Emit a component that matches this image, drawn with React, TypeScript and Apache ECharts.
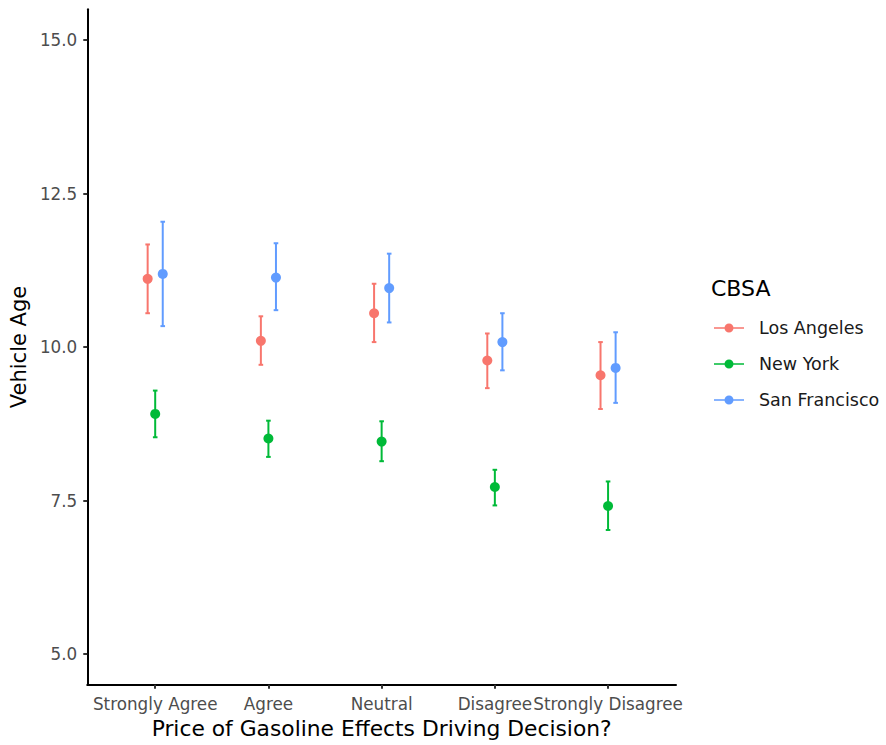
import React, { useEffect, useRef } from "react";
import * as echarts from "echarts";

// Survey answers on the x axis and the three metro areas compared
const categories = ["Strongly Agree", "Agree", "Neutral", "Disagree", "Strongly Disagree"];
const cities = ["Los Angeles", "New York", "San Francisco"];
const cityColors = ["#F8766D", "#00BA38", "#619CFF"];
const yTicks = [5, 7.5, 10, 12.5, 15];

// Mean vehicle age with lower / upper bounds of the interval, per answer
const laMean = [11.11, 10.1, 10.55, 9.78, 9.54];
const laLow = [10.55, 9.71, 10.08, 9.33, 8.99];
const laHigh = [11.67, 10.5, 11.03, 10.22, 10.08];

const nyMean = [8.91, 8.51, 8.46, 7.72, 7.41];
const nyLow = [8.53, 8.21, 8.14, 7.42, 7.02];
const nyHigh = [9.29, 8.8, 8.79, 8.0, 7.81];

const sfMean = [11.19, 11.13, 10.96, 10.08, 9.66];
const sfLow = [10.34, 10.6, 10.4, 9.62, 9.09];
const sfHigh = [12.04, 11.69, 11.52, 10.55, 10.24];

const means = [laMean, nyMean, sfMean];
const lows = [laLow, nyLow, sfLow];
const highs = [laHigh, nyHigh, sfHigh];

// Dodge width shared by the three groups at each answer
const DODGE = 0.2;
const FONT = "'DejaVu Sans', 'Noto Sans', sans-serif";

const legendIcon =
  "path://M0,4.2H30V5.8H0Z M10.5,5A4.5,4.5 0 1 1 19.5,5A4.5,4.5 0 1 1 10.5,5Z";

export default function App() {
  const ref = useRef<HTMLDivElement>(null);

  useEffect(() => {
    document.body.style.margin = "0";
    if (!ref.current) return;
    const chart = echarts.init(ref.current, null, { renderer: "svg" });

    const series: any[] = [];
    cities.forEach((city, g) => {
      const off = (g - 1) * (DODGE / 3);
      const color = cityColors[g];
      series.push({
        type: "custom",
        name: city + " interval",
        data: lows[g].map((lo, i) => [i + 1 + off, lo, highs[g][i]]),
        encode: { x: 0, y: [1, 2] },
        z: 2,
        renderItem: (_params: any, api: any) => {
          const x = api.value(0);
          const p1 = api.coord([x, api.value(1)]);
          const p2 = api.coord([x, api.value(2)]);
          const hw = 2.3;
          const style = { stroke: color, lineWidth: 2 };
          return {
            type: "group",
            children: [
              { type: "line", shape: { x1: p1[0], y1: p1[1], x2: p2[0], y2: p2[1] }, style },
              { type: "line", shape: { x1: p1[0] - hw, y1: p1[1], x2: p1[0] + hw, y2: p1[1] }, style },
              { type: "line", shape: { x1: p2[0] - hw, y1: p2[1], x2: p2[0] + hw, y2: p2[1] }, style },
            ],
          };
        },
      });
      series.push({
        type: "scatter",
        name: city,
        data: means[g].map((m, i) => [i + 1 + off, m]),
        symbol: "circle",
        symbolSize: 10,
        itemStyle: { color, opacity: 1 },
        z: 3,
      });
    });

    chart.setOption({
      animation: false,
      backgroundColor: "#ffffff",
      textStyle: { fontFamily: FONT },
      grid: { left: 87, right: 210, top: 9.3, bottom: 60.3, containLabel: false },
      xAxis: {
        type: "value",
        min: 0.4,
        max: 5.6,
        name: "Price of Gasoline Effects Driving Decision?",
        nameLocation: "middle",
        nameGap: 30,
        nameTextStyle: { fontSize: 21.8, color: "#000000", fontFamily: FONT },
        axisLine: { show: true, onZero: false, lineStyle: { color: "#000000", width: 2 } },
        axisTick: { show: true, length: 4, customValues: [1, 2, 3, 4, 5], lineStyle: { color: "#333333", width: 2 } },
        axisLabel: {
          customValues: [1, 2, 3, 4, 5],
          formatter: (v: number) => categories[Math.round(v) - 1] ?? "",
          color: "#4D4D4D",
          fontSize: 16.8,
          margin: 10.5,
          fontFamily: FONT,
        },
        splitLine: { show: false },
      },
      yAxis: {
        type: "value",
        min: 4.5,
        max: 15.5,
        name: "Vehicle Age",
        nameLocation: "middle",
        nameGap: 54,
        nameRotate: 90,
        nameTextStyle: { fontSize: 21, color: "#000000", fontFamily: FONT },
        axisLine: { show: true, onZero: false, lineStyle: { color: "#000000", width: 2 } },
        axisTick: { show: true, length: 4, customValues: yTicks, lineStyle: { color: "#333333", width: 2 } },
        axisLabel: {
          customValues: yTicks,
          formatter: (v: number) => v.toFixed(1),
          color: "#4D4D4D",
          fontSize: 16.8,
          margin: 10,
          fontFamily: FONT,
        },
        splitLine: { show: false },
      },
      legend: {
        data: cities,
        orient: "vertical",
        left: 714,
        top: 319,
        padding: 0,
        icon: legendIcon,
        itemWidth: 30,
        itemHeight: 9,
        itemGap: 18,
        selectedMode: false,
        textStyle: { fontSize: 17.5, color: "#1A1A1A", fontFamily: FONT, padding: [0, 0, 0, 10] },
      },
      graphic: [
        {
          type: "text",
          x: 711,
          y: 288,
          style: { text: "CBSA", fontSize: 22, fill: "#000000", fontFamily: FONT, verticalAlign: "middle" },
        },
      ],
      series,
    });

    return () => chart.dispose();
  }, []);

  return <div ref={ref} style={{ width: 886, height: 745 }} />;
}
